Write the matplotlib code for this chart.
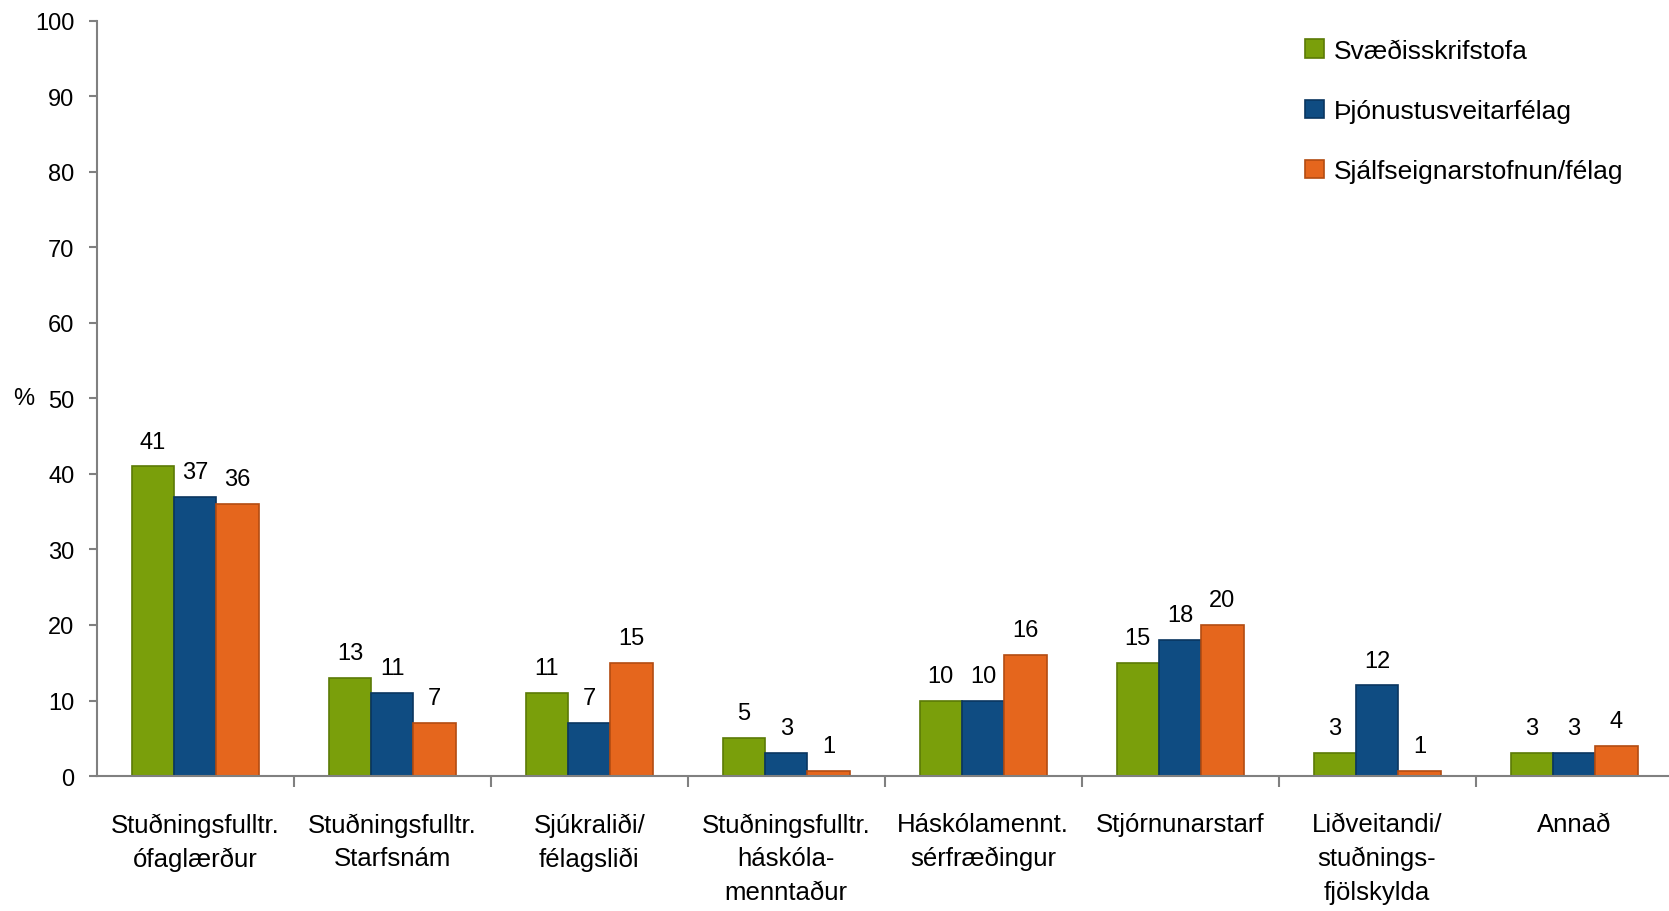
import numpy as np
import matplotlib.pyplot as plt

categories = ['Stuðningsfulltr.\nófaglærður', 'Stuðningsfulltr.\nStarfsnám', 'Sjúkraliði/\nfélagsliði',
              'Stuðningsfulltr.\nháskóla-\nmenntaður', 'Háskólamennt.\nsérfræðingur', 'Stjórnunarstarf',
              'Liðveitandi/\nstuðnings-\nfjölskylda', 'Annað']
series = ['Svæðisskrifstofa', 'Þjónustusveitarfélag', 'Sjálfseignarstofnun/félag']
svaedis = [41, 13, 11, 5, 10, 15, 3, 3]
thjonusta = [37, 11, 7, 3, 10, 18, 12, 3]
sjalfs = [36, 7, 15, 0.7, 16, 20, 0.7, 4]

colors = ['#7a9f0b', '#0f4c82', '#e5661d']
edges = ['#5b7a06', '#0a3660', '#b34c12']

plt.rcParams['font.family'] = ['Liberation Sans', 'DejaVu Sans']

fig = plt.figure(figsize=(16.69, 9.12), dpi=100)
ax = fig.add_axes([0.058, 0.148, 0.95, 0.828])

x = np.arange(len(categories))
w = 0.215
for i, (vals, c, e, name) in enumerate(zip([svaedis, thjonusta, sjalfs], colors, edges, series)):
    pos = x + (i - 1) * w
    ax.bar(pos, vals, w, color=c, edgecolor=e, linewidth=1.2, label=name)
    for p, v in zip(pos, vals):
        ax.annotate(f'{max(round(v), 1):d}', (p, v), xytext=(0, 10), textcoords='offset points',
                    ha='center', va='bottom', fontsize=17)

ax.set_xlim(-0.5, len(categories) - 0.45)
ax.set_ylim(0, 100)
ax.set_yticks(range(0, 101, 10))
ax.tick_params(axis='y', labelsize=17, color='#808080', length=6, width=1.5, pad=10)
ax.set_xticks(x)
ax.set_xticklabels(categories, fontsize=18.5, linespacing=1.5)
ax.tick_params(axis='x', length=0, pad=26)
ax.set_xticks(np.arange(len(categories)) + 0.5, minor=True)
ax.tick_params(axis='x', which='minor', length=8, width=1.5, color='#808080')

for s in ['top', 'right']:
    ax.spines[s].set_visible(False)
for s in ['left', 'bottom']:
    ax.spines[s].set_color('#808080')
    ax.spines[s].set_linewidth(1.5)

ax.set_ylabel('%', rotation=0, fontsize=17, va='center')
ax.yaxis.set_label_coords(-0.046, 0.5)

ax.legend(loc='upper right', bbox_to_anchor=(0.978, 1.008), frameon=False, fontsize=19,
          handlelength=0.7, handleheight=0.7, handletextpad=0.4, labelspacing=1.38)

fig.savefig('out.png', dpi=100)
